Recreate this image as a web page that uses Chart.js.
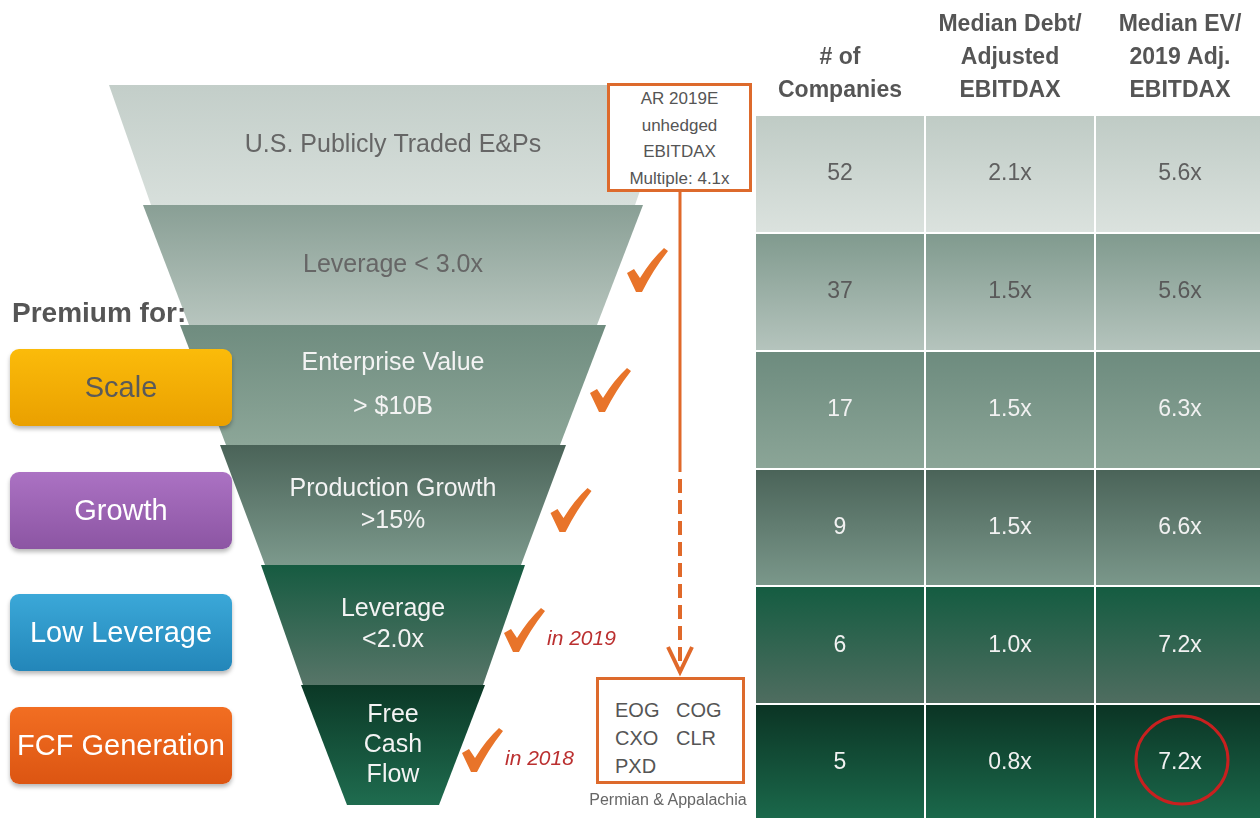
<!DOCTYPE html>
<html>
<head>
<meta charset="utf-8">
<title>E&P Premium Funnel</title>
<script src="https://cdn.jsdelivr.net/npm/chart.js"></script>
<style>
  body { margin: 0; width: 1260px; height: 818px; overflow: hidden; background: #fff; position: relative;
         font-family: "Liberation Sans", Arial, sans-serif; }
  #funnelChart { position: absolute; left: 0; top: 0; }
  #tableChart { position: absolute; left: 755px; top: 0; }
  .premium-title { position: absolute; left: 12px; top: 297px; font-weight: bold; font-size: 28px; color: #555; }
  .btn { position: absolute; left: 10px; width: 222px; height: 77px; border-radius: 9px; display: flex;
         align-items: center; justify-content: center; font-size: 29px; color: #fff;
         box-shadow: 0 3px 4px rgba(0,0,0,0.28); }
  .box { position: absolute; background: #fff; border: 3px solid #dd6a2c; box-sizing: border-box; color: #555; }
  #arBox { left: 607px; top: 83px; width: 145px; height: 109px; text-align: center; font-size: 17px; line-height: 26.5px; }
  #coBox { left: 596px; top: 677px; width: 149px; height: 107px; font-size: 20px; line-height: 28px;
           padding: 16px 0 0 16px; display: grid; grid-template-columns: 61px 61px; align-content: start; }
  #coNote { position: absolute; left: 588px; top: 791px; width: 160px; text-align: center; font-size: 16px; color: #666; }
</style>
</head>
<body>
<canvas id="funnelChart" width="755" height="818"></canvas>
<canvas id="tableChart" width="510" height="822"></canvas>
<div class="premium-title">Premium for:</div>
<div id="buttons"></div>
<div class="box" id="arBox"></div>
<div class="box" id="coBox"></div>
<div id="coNote">Permian &amp; Appalachia</div>

<script>
  // funnel stages (top to bottom)
  var stages = [['U.S. Publicly Traded E&Ps'], ['Leverage < 3.0x'], ['Enterprise Value', '> $10B'],
                ['Production Growth', '>15%'], ['Leverage', '<2.0x'], ['Free', 'Cash', 'Flow']];
  var stageNames = stages.map(function(s) { return s.join(' '); });

  // funnel half widths at top and bottom of each stage
  var funnelTop = [284, 250, 213, 173, 132, 92];
  var funnelBottom = [242, 204, 167, 128, 90, 46];

  var checked = [false, true, true, true, true, true];
  var checkNotes = ['', '', '', '', 'in 2019', 'in 2018'];

  // table values
  var tableHeaders = [['# of', 'Companies'], ['Median Debt/', 'Adjusted', 'EBITDAX'], ['Median EV/', '2019 Adj.', 'EBITDAX']];
  var columnKeys = ['companies', 'debt', 'ev'];
  var companies = [52, 37, 17, 9, 6, 5];
  var debtMultiple = [2.1, 1.5, 1.5, 1.5, 1.0, 0.8];
  var evMultiple = [5.6, 5.6, 6.3, 6.6, 7.2, 7.2];
  var highlightRow = 5, highlightCol = 2;

  var premiums = ['Scale', 'Growth', 'Low Leverage', 'FCF Generation'];
  var arLines = ['AR 2019E', 'unhedged', 'EBITDAX', 'Multiple: 4.1x'];
  var fcfCompanies = ['EOG', 'COG', 'CXO', 'CLR', 'PXD'];

  // colours
  var stageColors = [['#c3cec9', '#d7dfdb'], ['#899f95', '#b7c5be'], ['#6f8c7f', '#8ca698'],
                     ['#4a6358', '#7c998c'], ['#165b41', '#577568'], ['#0b3826', '#1f6c4f']];
  var rowColors = [['#bfcbc5', '#dbe2de'], ['#809a8e', '#b5c4bd'], ['#6d8b7e', '#8ba597'],
                   ['#4a6358', '#7b988b'], ['#145c41', '#4f6d60'], ['#0b3424', '#1b6a4c']];
  var premiumColors = [['#fbbb0a', '#eaa000', '#5a5a5a'], ['#ab72c3', '#8c55a3', '#fff'],
                       ['#3ba8d8', '#2386b9', '#fff'], ['#f26e22', '#dc5512', '#fff']];
  var orange = '#e0692a';

  Chart.defaults.font.family = '"Liberation Sans", Arial, sans-serif';

  // html bits: premium buttons and boxes
  var btnTops = [349, 472, 594, 707];
  premiums.forEach(function(p, i) {
    var d = document.createElement('div');
    d.className = 'btn';
    d.style.top = btnTops[i] + 'px';
    d.style.background = 'linear-gradient(' + premiumColors[i][0] + ',' + premiumColors[i][1] + ')';
    d.style.color = premiumColors[i][2];
    d.textContent = p;
    document.getElementById('buttons').appendChild(d);
  });
  document.getElementById('arBox').innerHTML = arLines.map(function(l) { return '<div>' + l + '</div>'; }).join('');
  document.getElementById('coBox').innerHTML = fcfCompanies.map(function(c) { return '<div>' + c + '</div>'; }).join('');

  function drawCheck(ctx, cx, cy) {
    ctx.save();
    ctx.translate(cx, cy);
    ctx.fillStyle = '#e8742a';
    ctx.beginPath();
    ctx.moveTo(-20, 3);
    ctx.lineTo(-13, -1);
    ctx.lineTo(-7, 8);
    ctx.quadraticCurveTo(4, -10, 17, -22);
    ctx.lineTo(21, -19);
    ctx.quadraticCurveTo(6, 0, -5, 22);
    ctx.lineTo(-11, 22);
    ctx.closePath();
    ctx.fill();
    ctx.restore();
  }

  var lineGaps = [30, 30, 44, 32, 31, 30];

  var funnelPlugin = {
    id: 'funnelShapes',
    afterDatasetsDraw: function(chart) {
      var ctx = chart.ctx, xs = chart.scales.x;
      var cx = xs.getPixelForValue(0);
      chart.getDatasetMeta(0).data.forEach(function(bar, i) {
        var top = bar.y - bar.height / 2, bottom = bar.y + bar.height / 2;
        var wTop = xs.getPixelForValue(funnelTop[i]) - cx;
        var wBot = xs.getPixelForValue(funnelBottom[i]) - cx;
        var g = ctx.createLinearGradient(0, top, 0, bottom);
        g.addColorStop(0, stageColors[i][0]);
        g.addColorStop(1, stageColors[i][1]);
        ctx.beginPath();
        ctx.moveTo(cx - wTop, top);
        ctx.lineTo(cx + wTop, top);
        ctx.lineTo(cx + wBot, bottom);
        ctx.lineTo(cx - wBot, bottom);
        ctx.closePath();
        ctx.fillStyle = g;
        ctx.fill();

        // stage label
        var lines = stages[i];
        ctx.font = '25px "Liberation Sans", Arial, sans-serif';
        ctx.fillStyle = i < 2 ? '#666' : '#f3f3f3';
        ctx.textAlign = 'center';
        ctx.textBaseline = 'middle';
        var start = bar.y - (lines.length - 1) * lineGaps[i] / 2;
        lines.forEach(function(t, k) { ctx.fillText(t, cx, start + k * lineGaps[i]); });

        // check mark + note
        if (checked[i]) {
          var edge = cx + (wTop + wBot) / 2 + (checkNotes[i] ? 20 : 27);
          drawCheck(ctx, edge, bar.y + 5);
          if (checkNotes[i]) {
            ctx.font = 'italic 21px "Liberation Sans", Arial, sans-serif';
            ctx.fillStyle = '#bb3030';
            ctx.textAlign = 'left';
            ctx.textBaseline = 'alphabetic';
            ctx.fillText(checkNotes[i], edge + 23, bar.y + 20);
          }
        }
      });

      // arrow from AR box down to company box
      ctx.save();
      ctx.strokeStyle = orange;
      ctx.lineWidth = 3;
      ctx.beginPath();
      ctx.moveTo(680, 192);
      ctx.lineTo(680, 472);
      ctx.stroke();
      ctx.lineWidth = 4;
      ctx.setLineDash([14, 7]);
      ctx.beginPath();
      ctx.moveTo(680, 479);
      ctx.lineTo(680, 662);
      ctx.stroke();
      ctx.setLineDash([]);
      ctx.lineWidth = 4;
      ctx.beginPath();
      ctx.moveTo(668, 647);
      ctx.lineTo(680, 672);
      ctx.lineTo(692, 647);
      ctx.stroke();
      ctx.restore();
    }
  };

  new Chart(document.getElementById('funnelChart').getContext('2d'), {
    type: 'bar',
    data: {
      labels: stageNames,
      datasets: [{
        data: funnelTop.map(function(w) { return [-w, w]; }),
        backgroundColor: 'rgba(0,0,0,0)',
        barPercentage: 1,
        categoryPercentage: 1
      }]
    },
    options: {
      indexAxis: 'y',
      responsive: false,
      animation: false,
      events: [],
      layout: { padding: { left: 93, right: 62, top: 85, bottom: 13 } },
      plugins: { legend: { display: false }, tooltip: { enabled: false } },
      scales: {
        x: { type: 'linear', min: -300, max: 300, display: false },
        y: { type: 'category', display: false }
      }
    },
    plugins: [funnelPlugin]
  });

  // table
  function fmt(col, v) { return col === 0 ? String(v) : v.toFixed(1) + 'x'; }
  var tableSeries = [companies, debtMultiple, evMultiple];

  var tablePlugin = {
    id: 'tableCells',
    beforeDraw: function(chart) {
      var ctx = chart.ctx, xs = chart.scales.x, ys = chart.scales.y;
      var area = chart.chartArea;
      var bandH = ys.getPixelForValue(1) - ys.getPixelForValue(0);
      stageNames.forEach(function(n, i) {
        var yc = ys.getPixelForValue(i);
        var top = yc - bandH / 2, bottom = yc + bandH / 2;
        var g = ctx.createLinearGradient(0, top, 0, bottom);
        g.addColorStop(0, rowColors[i][0]);
        g.addColorStop(1, rowColors[i][1]);
        ctx.fillStyle = g;
        ctx.fillRect(area.left, top, area.right - area.left, bandH);
      });
    },
    afterDatasetsDraw: function(chart) {
      var ctx = chart.ctx;
      ctx.font = '23px "Liberation Sans", Arial, sans-serif';
      ctx.textAlign = 'center';
      ctx.textBaseline = 'middle';
      chart.data.datasets.forEach(function(ds, col) {
        chart.getDatasetMeta(col).data.forEach(function(pt, row) {
          ctx.fillStyle = row === 0 ? '#5f5f5f' : row === 1 ? '#5a5a5a' : '#f1f1f1';
          ctx.fillText(fmt(col, tableSeries[col][row]), pt.x, pt.y);
          if (row === highlightRow && col === highlightCol) {
            ctx.strokeStyle = '#c8201f';
            ctx.lineWidth = 3;
            ctx.beginPath();
            ctx.ellipse(pt.x + 2, pt.y - 3, 46, 44, 0, 0, Math.PI * 2);
            ctx.stroke();
          }
        });
      });
    }
  };

  new Chart(document.getElementById('tableChart').getContext('2d'), {
    type: 'scatter',
    data: {
      datasets: tableSeries.map(function(series, col) {
        return {
          label: tableHeaders[col].join(' '),
          data: series.map(function(v, row) { return { x: columnKeys[col], y: stageNames[row] }; }),
          pointRadius: 0
        };
      })
    },
    options: {
      responsive: false,
      animation: false,
      events: [],
      layout: { padding: 0 },
      plugins: { legend: { display: false }, tooltip: { enabled: false } },
      scales: {
        x: {
          type: 'category',
          labels: columnKeys,
          position: 'top',
          offset: true,
          grid: { color: '#ffffff', lineWidth: 2, drawTicks: false, offset: true },
          border: { display: false },
          ticks: {
            callback: function(v, i) { return tableHeaders[i]; },
            font: { size: 23, weight: 'bold', lineHeight: 1.43 },
            color: '#555',
            padding: 8,
            maxRotation: 0,
            autoSkip: false
          },
          afterFit: function(s) { s.height = 115; }
        },
        y: {
          type: 'category',
          labels: stageNames,
          offset: true,
          grid: { color: '#ffffff', lineWidth: 2, drawTicks: false, offset: true },
          border: { display: false },
          ticks: { display: false },
          afterFit: function(s) { s.width = 0; }
        }
      }
    },
    plugins: [tablePlugin]
  });
</script>
</body>
</html>
